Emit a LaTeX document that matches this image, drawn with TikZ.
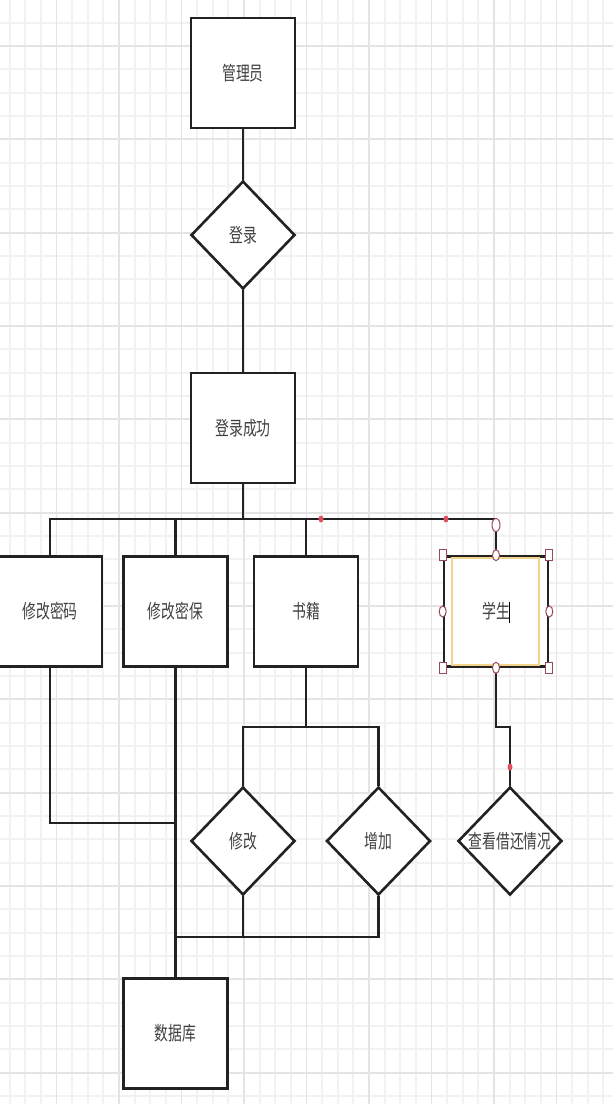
\documentclass[tikz,border=0pt]{standalone}
\usepackage{fontspec}
\setmainfont{Noto Sans CJK SC}
\usetikzlibrary{shapes.geometric}
\definecolor{ln}{HTML}{222222}
\definecolor{txt}{HTML}{404040}
\definecolor{gl}{HTML}{F2F2F2}
\definecolor{gd}{HTML}{E4E4E4}
\definecolor{sel}{HTML}{F2D38C}
\definecolor{hdl}{HTML}{9A4A56}
\definecolor{rdot}{HTML}{E0505F}
\newcommand\mytxt[1]{\makebox[0pt]{\scalebox{1}[1.4]{#1}}}
\begin{document}
\begin{tikzpicture}[x=1pt,y=-1pt,
  lblfont/.style={font=\fontsize{13.8pt}{16pt}\selectfont,text=txt},
  box/.style={draw=ln,line width=2.6pt,fill=white,rectangle,minimum width=104pt,minimum height=110pt,inner sep=0pt,lblfont},
  dia/.style={draw=ln,line width=2.6pt,fill=white,diamond,minimum width=104pt,minimum height=108pt,inner sep=0pt,lblfont},
  conn/.style={draw=ln,line width=2.6pt},
  handle/.style={draw=hdl,line width=1pt,fill=white,inner sep=0pt}]
\useasboundingbox (0,0) rectangle (613,1104);
\clip (0,0) rectangle (613,1104);
\fill[white] (0,0) rectangle (613,1104);
% grid
\foreach \i in {0,...,39} \draw[gl,line width=1.8pt] ({9.625+15.625*\i},0) -- ({9.625+15.625*\i},1104);
\foreach \j in {0,...,47} \draw[gl,line width=2.2pt] (0,{22.667+23.333*\j}) -- (613,{22.667+23.333*\j});
\foreach \i in {0,...,9} \draw[gd,line width=1.8pt] ({56.5+62.5*\i},0) -- ({56.5+62.5*\i},1104);
\foreach \j in {0,...,11} \draw[gd,line width=2.2pt] (0,{46+93.333*\j}) -- (613,{46+93.333*\j});
% nodes
\node[box] (gly) at (243,73) {\mytxt{管理员}};
\node[dia] (dl) at (243,235) {\mytxt{登录}};
\node[box] (cg) at (243,428) {\mytxt{登录成功}};
\node[box] (mm) at (50,611.5) {\mytxt{修改密码}};
\node[box] (mb) at (175.5,611.5) {\mytxt{修改密保}};
\node[box] (sj) at (306,611.5) {\mytxt{书籍}};
\node[box] (xs) at (496,611.5) {\mytxt{学生}};
\node[dia] (xg) at (243,841) {\mytxt{修改}};
\node[dia] (zj) at (378.5,841) {\mytxt{增加}};
\node[dia] (ck) at (510,841) {\mytxt{查看借还情况}};
\node[box] (db) at (175.5,1033.5) {\mytxt{数据库}};
% connectors
\coordinate (bus) at (0,519);
\coordinate (b2) at (0,727);
\coordinate (b3) at (0,937);
\coordinate (b4) at (0,823);
\draw[conn] (gly.south) -- (dl.north);
\draw[conn] (dl.south) -- (cg.north);
\draw[conn] (cg.south) -- (cg.south |- bus);
\draw[conn] (mm.north) |- (xs.north |- bus) -- (xs.north);
\draw[conn] (mb.north |- bus) -- (mb.north);
\draw[conn] (sj.north |- bus) -- (sj.north);
\draw[conn] (sj.south) -- (sj.south |- b2);
\draw[conn] (xg.north) |- (zj.north |- b2) -- (zj.north);
\draw[conn] (xs.south) -- (xs.south |- b2) -| (ck.north);
\draw[conn] (xg.south) -- (xg.south |- b3);
\draw[conn] (zj.south) |- (db.north |- b3);
\draw[conn] (mb.south) -- (db.north);
\draw[conn] (mm.south) |- (mb.south |- b4);
% selection decoration on 学生
\draw[sel,line width=1.6pt] (452,558) rectangle (539,665);
\foreach \a in {north west,north east,south west,south east}
  \node[handle,rectangle,minimum width=7pt,minimum height=11pt] at (xs.\a) {};
\foreach \a in {north,south,west,east}
  \node[handle,ellipse,minimum width=7pt,minimum height=11pt] at (xs.\a) {};
\node[handle,ellipse,minimum width=8pt,minimum height=13pt] (endh) at (496,525) {};
\fill[rdot] (321,519) ellipse (2.5pt and 3.5pt);
\fill[rdot] (446,519) ellipse (2.5pt and 3.5pt);
\fill[rdot] (510,767) ellipse (2.5pt and 3.5pt);
\draw[black,line width=0.8pt] (509,602) -- (509,623);
\end{tikzpicture}
\end{document}
